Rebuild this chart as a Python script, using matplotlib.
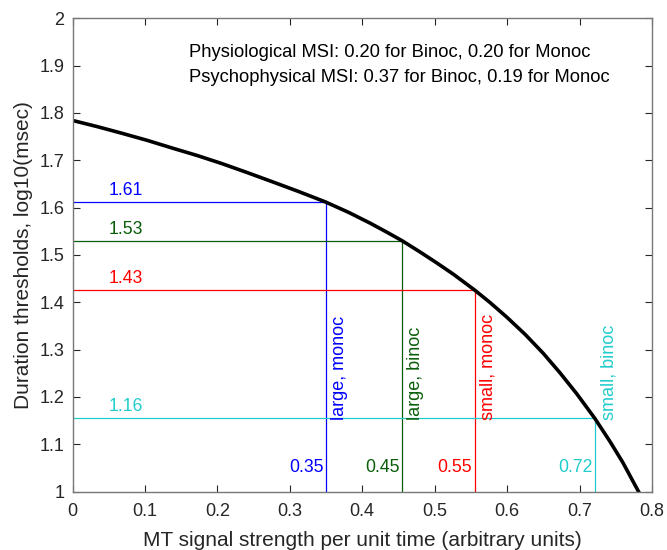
import matplotlib
matplotlib.use("Agg")
import matplotlib.pyplot as plt

# curve
curve_x = [0.0, 0.034, 0.068, 0.103, 0.137, 0.172, 0.206, 0.241, 0.275, 0.312,
           0.349, 0.381, 0.411, 0.434, 0.455, 0.480, 0.503, 0.526, 0.555, 0.576,
           0.600, 0.625, 0.650, 0.673, 0.696, 0.721, 0.742, 0.760, 0.7815]
curve_y = [1.784, 1.771, 1.757, 1.742, 1.726, 1.710, 1.693, 1.674, 1.655, 1.634,
           1.612, 1.590, 1.567, 1.548, 1.530, 1.506, 1.483, 1.459, 1.426, 1.400,
           1.368, 1.332, 1.292, 1.251, 1.207, 1.155, 1.106, 1.061, 1.0]

# conditions
conditions = ["large, monoc", "large, binoc", "small, monoc", "small, binoc"]
strengths = [0.35, 0.455, 0.555, 0.721]
thresholds = [1.6126, 1.530, 1.4254, 1.155]
strength_labels = ["0.35", "0.45", "0.55", "0.72"]
threshold_labels = ["1.61", "1.53", "1.43", "1.16"]
colors = ["#0000ff", "#0a5e0a", "#ff0000", "#22cccc"]

msi_lines = ["Physiological MSI: 0.20 for Binoc, 0.20 for Monoc",
             "Psychophysical MSI: 0.37 for Binoc, 0.19 for Monoc"]

plt.rcParams["font.family"] = ["Liberation Sans", "DejaVu Sans"]
axcol = "#262626"

fig = plt.figure(figsize=(6.67, 5.5), dpi=100)
ax = fig.add_axes([0.1087, 0.106, 0.8688, 0.861])

for sx, ty, c in zip(strengths, thresholds, colors):
    ax.plot([0, sx], [ty, ty], color=c, lw=0.9)
    ax.plot([sx, sx], [1, ty], color=c, lw=0.9)

ax.plot(curve_x, curve_y, color="black", lw=2.6, solid_joinstyle="round")

for name, sx, ty, sl, tl, c in zip(conditions, strengths, thresholds,
                                   strength_labels, threshold_labels, colors):
    ax.text(0.05, ty + 0.006, tl, color=c, fontsize=12.7, ha="left", va="bottom")
    ax.text(sx - 0.003, 1.033, sl, color=c, fontsize=12.7, ha="right", va="bottom")
    ax.text(sx + 0.019, 1.152, name, color=c, fontsize=13, rotation=90,
            ha="center", va="bottom")

ax.text(0.161, 1.927, msi_lines[0], fontsize=13.2, ha="left", va="center")
ax.text(0.161, 1.874, msi_lines[1], fontsize=13.2, ha="left", va="center")

ax.set_xlim(0, 0.8)
ax.set_ylim(1, 2)
ax.set_xticks([0, 0.1, 0.2, 0.3, 0.4, 0.5, 0.6, 0.7, 0.8])
ax.set_xticklabels(["0", "0.1", "0.2", "0.3", "0.4", "0.5", "0.6", "0.7", "0.8"])
ax.set_yticks([1, 1.1, 1.2, 1.3, 1.4, 1.5, 1.6, 1.7, 1.8, 1.9, 2])
ax.set_yticklabels(["1", "1.1", "1.2", "1.3", "1.4", "1.5", "1.6", "1.7", "1.8", "1.9", "2"])
ax.tick_params(direction="in", top=True, right=True, length=5, width=0.8,
               colors=axcol, labelsize=13, labelcolor=axcol)
ax.tick_params(axis="x", pad=8)
ax.tick_params(axis="y", pad=6)
for s in ax.spines.values():
    s.set_color("#777777")
    s.set_linewidth(1.0)

ax.set_xlabel("MT signal strength per unit time (arbitrary units)", fontsize=15,
              color=axcol, va="center")
ax.set_ylabel("Duration thresholds, log10(msec)", fontsize=15, color=axcol,
              va="center")
ax.xaxis.set_label_coords(0.5, -0.102)
ax.yaxis.set_label_coords(-0.085, 0.5)

fig.savefig("out.png", dpi=100)
